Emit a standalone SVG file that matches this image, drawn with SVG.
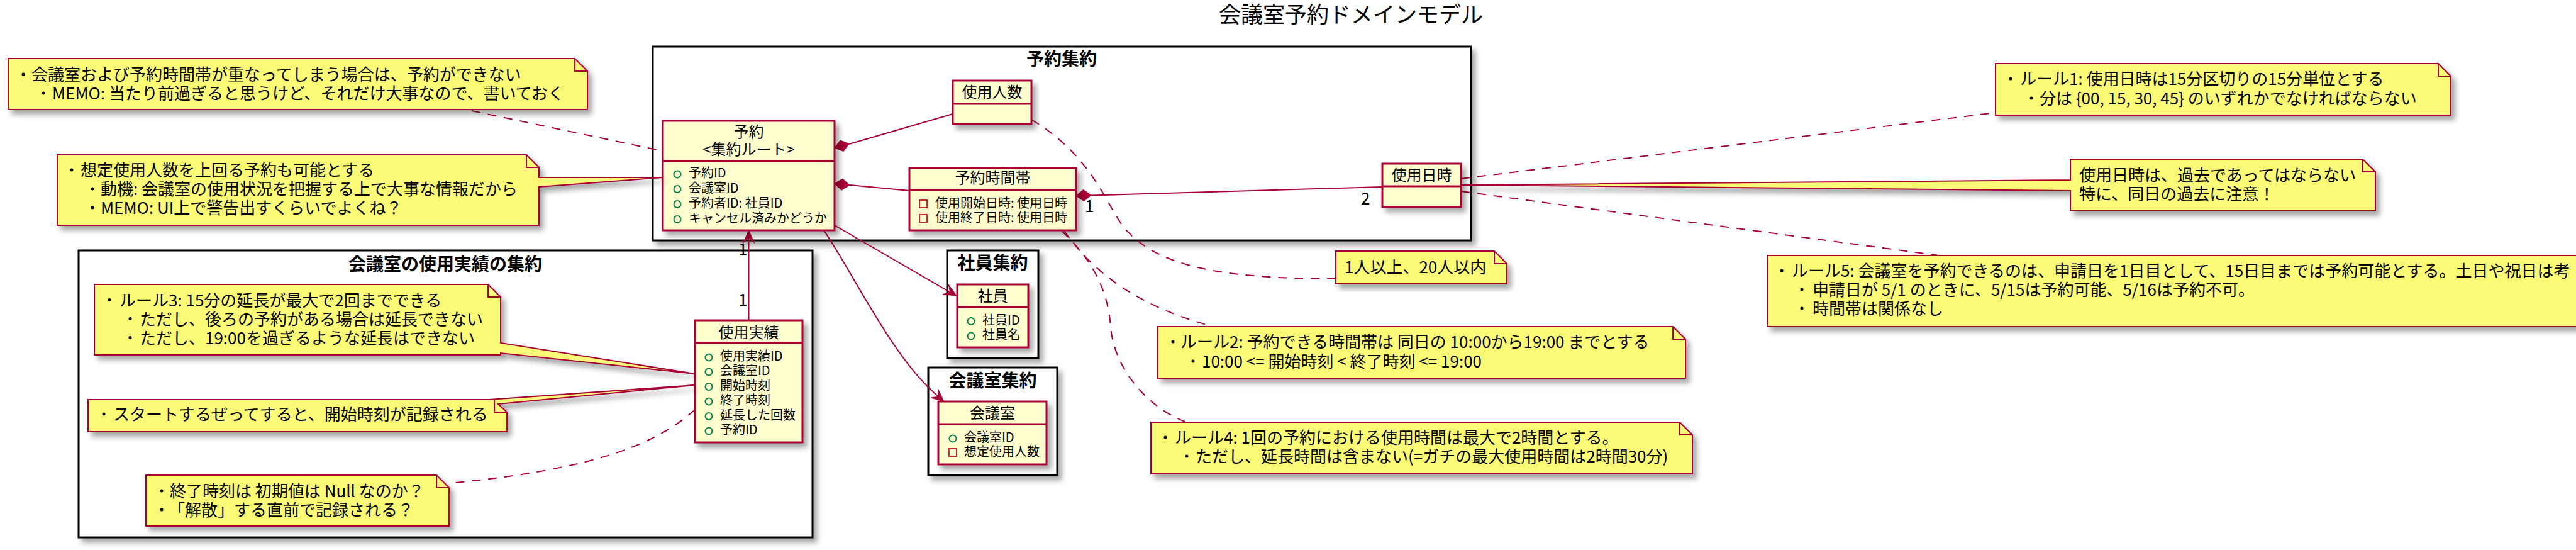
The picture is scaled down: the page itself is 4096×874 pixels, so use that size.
<svg xmlns="http://www.w3.org/2000/svg" width="4096" height="874" viewBox="0 0 4096 874">
<defs>
<filter id="sh" x="-5%" y="-10%" width="115%" height="135%">
<feDropShadow dx="6" dy="7" stdDeviation="4" flood-color="#000" flood-opacity="0.35"/>
</filter>
<path id="dia" d="M0,0 L12,-9 L24,0 L12,9 Z"/>
<path id="arr" d="M0,0 L-20,-9 L-12,0 L-20,9 Z"/>
</defs>
<style>
text{font-family:"Noto Sans CJK JP","Noto Sans",sans-serif;fill:#000}
.title{font-size:35px;text-anchor:middle}
.pkg{fill:#fff;stroke:#000;stroke-width:3}
.pkl{font-size:28px;font-weight:bold;text-anchor:middle}
.cls{fill:#FEFECE;stroke:#A80036;stroke-width:3}
.div{stroke:#A80036;stroke-width:3}
.cn{font-size:24px;text-anchor:middle}
.at{font-size:20px}
.pub{fill:none;stroke:#038048;stroke-width:2}
.prv{fill:none;stroke:#C82930;stroke-width:2}
.note{fill:#FBFB77;stroke:#A80036;stroke-width:2}
.fold{fill:none;stroke:#A80036;stroke-width:2}
.nt{font-size:26px}
.ln{fill:none;stroke:#A80036;stroke-width:2}
.dl{fill:none;stroke:#A80036;stroke-width:2;stroke-dasharray:14,12}
.hd{fill:#A80036;stroke:#A80036;stroke-width:1}
.lb{font-size:26px}
</style>
<rect width="4096" height="874" fill="#fff"/>
<text class="title" x="2148" y="36">会議室予約ドメインモデル</text>

<g id="pkg-yoyaku">
<rect class="pkg" x="1038" y="74" width="1301" height="308" filter="url(#sh)"/>
<text class="pkl" x="1688" y="104">予約集約</text>
</g>
<g id="pkg-jisseki">
<rect class="pkg" x="125" y="398" width="1167" height="456" filter="url(#sh)"/>
<text class="pkl" x="708" y="430">会議室の使用実績の集約</text>
</g>
<g id="pkg-shain">
<rect class="pkg" x="1506" y="398" width="145" height="171" filter="url(#sh)"/>
<text class="pkl" x="1578.5" y="428">社員集約</text>
</g>
<g id="pkg-kaigishitsu">
<rect class="pkg" x="1476" y="584" width="205" height="171" filter="url(#sh)"/>
<text class="pkl" x="1578.5" y="615">会議室集約</text>
</g>

<g id="connectors">
<path class="dl" d="M750,176 L1054,240"/>
<path class="dl" d="M2323,284 L3173,179"/>
<path class="dl" d="M2323,304 L3083,406"/>
<path class="dl" d="M1640,190 C1740,250 1760,330 1790,365 C1840,420 1930,443 2124,443"/>
<path class="dl" d="M1688,367 C1735,410 1762,460 1766,520 C1772,590 1830,650 1884,670"/>
<path class="dl" d="M1692,367 C1730,420 1790,480 1922,517"/>
<path class="dl" d="M1105,651 C1050,700 960,745 714,768"/>
<path class="ln" d="M1350,229 L1515,181"/>
<use href="#dia" class="hd" transform="translate(1327,235) rotate(-15.5)"/>
<path class="ln" d="M1351,294 L1446,303"/>
<use href="#dia" class="hd" transform="translate(1327,292) rotate(5.3)"/>
<path class="ln" d="M1735,310.5 L2198,297"/>
<use href="#dia" class="hd" transform="translate(1711,311) rotate(-1.6)"/>
<path class="ln" d="M1327,358 L1510,464"/>
<use href="#arr" class="hd" transform="translate(1521,470) rotate(30)"/>
<path class="ln" d="M1310,366 C1360,440 1420,570 1492,630"/>
<use href="#arr" class="hd" transform="translate(1501,638) rotate(40)"/>
<path class="ln" d="M1190.5,509 L1190.5,378"/>
<use href="#arr" class="hd" transform="translate(1190.5,366) rotate(-90)"/>
<text class="lb" x="1174" y="406">1</text>
<text class="lb" x="1174" y="486">1</text>
<text class="lb" x="1725" y="337">1</text>
<text class="lb" x="2164" y="325">2</text>
</g>

<g id="cls-yoyaku">
<rect class="cls" x="1054" y="192" width="273" height="174" filter="url(#sh)"/>
<line class="div" x1="1054" y1="256" x2="1327" y2="256"/>
<text class="cn" x="1190.5" y="218">予約</text>
<text class="cn" x="1190.5" y="246">&lt;集約ルート&gt;</text>
<circle class="pub" cx="1077" cy="277" r="5.5"/><text class="at" x="1095" y="282">予約ID</text>
<circle class="pub" cx="1077" cy="300.5" r="5.5"/><text class="at" x="1095" y="305.5">会議室ID</text>
<circle class="pub" cx="1077" cy="324.5" r="5.5"/><text class="at" x="1095" y="329.5">予約者ID: 社員ID</text>
<circle class="pub" cx="1077" cy="348.5" r="5.5"/><text class="at" x="1095" y="353.5">キャンセル済みかどうか</text>
</g>
<g id="cls-ninzu">
<rect class="cls" x="1515" y="128" width="125" height="69" filter="url(#sh)"/>
<line class="div" x1="1515" y1="165" x2="1640" y2="165"/>
<text class="cn" x="1577.5" y="155">使用人数</text>
</g>
<g id="cls-jikantai">
<rect class="cls" x="1446" y="267" width="265" height="99" filter="url(#sh)"/>
<line class="div" x1="1446" y1="302" x2="1711" y2="302"/>
<text class="cn" x="1578.5" y="291">予約時間帯</text>
<rect class="prv" x="1462" y="318" width="12" height="12"/><text class="at" x="1487" y="330">使用開始日時: 使用日時</text>
<rect class="prv" x="1462" y="341" width="12" height="12"/><text class="at" x="1487" y="353">使用終了日時: 使用日時</text>
</g>
<g id="cls-nichiji">
<rect class="cls" x="2198" y="260" width="125" height="69" filter="url(#sh)"/>
<line class="div" x1="2198" y1="296" x2="2323" y2="296"/>
<text class="cn" x="2260.5" y="286.5">使用日時</text>
</g>
<g id="cls-shain">
<rect class="cls" x="1522" y="452" width="113" height="100" filter="url(#sh)"/>
<line class="div" x1="1522" y1="488" x2="1635" y2="488"/>
<text class="cn" x="1578.5" y="478.5">社員</text>
<circle class="pub" cx="1544" cy="510.5" r="5.5"/><text class="at" x="1562" y="515.5">社員ID</text>
<circle class="pub" cx="1544" cy="534" r="5.5"/><text class="at" x="1562" y="539">社員名</text>
</g>
<g id="cls-kaigishitsu">
<rect class="cls" x="1492" y="638" width="172" height="100" filter="url(#sh)"/>
<line class="div" x1="1492" y1="674" x2="1664" y2="674"/>
<text class="cn" x="1578" y="665">会議室</text>
<circle class="pub" cx="1515" cy="697" r="5.5"/><text class="at" x="1533" y="702">会議室ID</text>
<rect class="prv" x="1509" y="713" width="12" height="12"/><text class="at" x="1533" y="725">想定使用人数</text>
</g>
<g id="cls-jisseki">
<rect class="cls" x="1105" y="509" width="171" height="194" filter="url(#sh)"/>
<line class="div" x1="1105" y1="545" x2="1276" y2="545"/>
<text class="cn" x="1190.5" y="536.5">使用実績</text>
<circle class="pub" cx="1127" cy="568" r="5.5"/><text class="at" x="1145" y="573">使用実績ID</text>
<circle class="pub" cx="1127" cy="591" r="5.5"/><text class="at" x="1145" y="596">会議室ID</text>
<circle class="pub" cx="1127" cy="614.5" r="5.5"/><text class="at" x="1145" y="619.5">開始時刻</text>
<circle class="pub" cx="1127" cy="638" r="5.5"/><text class="at" x="1145" y="643">終了時刻</text>
<circle class="pub" cx="1127" cy="661.5" r="5.5"/><text class="at" x="1145" y="666.5">延長した回数</text>
<circle class="pub" cx="1127" cy="685" r="5.5"/><text class="at" x="1145" y="690">予約ID</text>
</g>

<g id="note-overlap">
<path class="note" d="M13,93 L914,93 L934,113 L934,174 L13,174 Z" filter="url(#sh)"/>
<path class="fold" d="M914,93 L914,113 L934,113"/>
<circle cx="37" cy="118" r="2.5"/><text class="nt" x="50" y="127.5">会議室および予約時間帯が重なってしまう場合は、予約ができない</text>
<circle cx="69" cy="148" r="2.5"/><text class="nt" x="83" y="158">MEMO: 当たり前過ぎると思うけど、それだけ大事なので、書いておく</text>
</g>
<g id="note-ninzu">
<path class="note" d="M91,246 L837,246 L857,266 L857,282 L1054,282 L857,297 L857,358 L91,358 Z" filter="url(#sh)"/>
<path class="fold" d="M837,246 L837,266 L857,266"/>
<circle cx="114" cy="270" r="2.5"/><text class="nt" x="128" y="280">想定使用人数を上回る予約も可能とする</text>
<circle cx="147" cy="300" r="2.5"/><text class="nt" x="160" y="310">動機: 会議室の使用状況を把握する上で大事な情報だから</text>
<circle cx="147" cy="330" r="2.5"/><text class="nt" x="160" y="340">MEMO: UI上で警告出すくらいでよくね？</text>
</g>
<g id="note-rule1">
<path class="note" d="M3173,101 L3877,101 L3897,121 L3897,183 L3173,183 Z" filter="url(#sh)"/>
<path class="fold" d="M3877,101 L3877,121 L3897,121"/>
<circle cx="3197" cy="125" r="2.5"/><text class="nt" x="3212" y="135">ルール1: 使用日時は15分区切りの15分単位とする</text>
<circle cx="3230" cy="156" r="2.5"/><text class="nt" x="3243" y="166">分は {00, 15, 30, 45} のいずれかでなければならない</text>
</g>
<g id="note-past">
<path class="note" d="M3292,253 L3757,253 L3777,273 L3777,335 L3292,335 L3292,303 L2323,294 L3292,286 Z" filter="url(#sh)"/>
<path class="fold" d="M3757,253 L3757,273 L3777,273"/>
<text class="nt" x="3306" y="288">使用日時は、過去であってはならない</text>
<text class="nt" x="3306" y="318">特に、同日の過去に注意！</text>
</g>
<g id="note-rule5">
<path class="note" d="M2810,406 L4200,406 L4200,519 L2810,519 Z" filter="url(#sh)"/>
<circle cx="2833" cy="430" r="2.5"/><text class="nt" x="2849" y="440">ルール5: 会議室を予約できるのは、申請日を1日目として、15日目までは予約可能とする。土日や祝日は考</text>
<circle cx="2865" cy="460" r="2.5"/><text class="nt" x="2882" y="470">申請日が 5/1 のときに、5/15は予約可能、5/16は予約不可。</text>
<circle cx="2865" cy="490" r="2.5"/><text class="nt" x="2882" y="500">時間帯は関係なし</text>
</g>
<g id="note-ninzu-range">
<path class="note" d="M2124,399 L2376,399 L2396,419 L2396,451 L2124,451 Z" filter="url(#sh)"/>
<path class="fold" d="M2376,399 L2376,419 L2396,419"/>
<text class="nt" x="2138" y="434">1人以上、20人以内</text>
</g>
<g id="note-rule2">
<path class="note" d="M1841,519 L2660,519 L2680,539 L2680,601 L1841,601 Z" filter="url(#sh)"/>
<path class="fold" d="M2660,519 L2660,539 L2680,539"/>
<circle cx="1865" cy="543" r="2.5"/><text class="nt" x="1877" y="553">ルール2: 予約できる時間帯は 同日の 10:00から19:00 までとする</text>
<circle cx="1897" cy="574" r="2.5"/><text class="nt" x="1911" y="584">10:00 &lt;= 開始時刻 &lt; 終了時刻 &lt;= 19:00</text>
</g>
<g id="note-rule4">
<path class="note" d="M1830,671 L2671,671 L2691,691 L2691,753 L1830,753 Z" filter="url(#sh)"/>
<path class="fold" d="M2671,671 L2671,691 L2691,691"/>
<circle cx="1853" cy="695" r="2.5"/><text class="nt" x="1868" y="705">ルール4: 1回の予約における使用時間は最大で2時間とする。</text>
<circle cx="1887" cy="725" r="2.5"/><text class="nt" x="1901" y="735">ただし、延長時間は含まない(=ガチの最大使用時間は2時間30分)</text>
</g>
<g id="note-rule3">
<path class="note" d="M150,452 L776,452 L796,472 L796,545 L1105,594 L796,561 L796,564 L150,564 Z" filter="url(#sh)"/>
<path class="fold" d="M776,452 L776,472 L796,472"/>
<circle cx="174" cy="476.5" r="2.5"/><text class="nt" x="190" y="486.5">ルール3: 15分の延長が最大で2回までできる</text>
<circle cx="207" cy="506.5" r="2.5"/><text class="nt" x="222" y="516.5">ただし、後ろの予約がある場合は延長できない</text>
<circle cx="207" cy="536.5" r="2.5"/><text class="nt" x="222" y="546.5">ただし、19:00を過ぎるような延長はできない</text>
</g>
<g id="note-start">
<path class="note" d="M140,635 L778,635 L1105,612 L792,642 L806,655 L806,686 L140,686 Z" filter="url(#sh)"/>
<path class="fold" d="M786,635 L786,655 L806,655"/>
<circle cx="165" cy="658" r="2.5"/><text class="nt" x="180" y="668">スタートするぜってすると、開始時刻が記録される</text>
</g>
<g id="note-end">
<path class="note" d="M232,755 L694,755 L714,775 L714,836 L232,836 Z" filter="url(#sh)"/>
<path class="fold" d="M694,755 L694,775 L714,775"/>
<circle cx="257" cy="780" r="2.5"/><text class="nt" x="270" y="790">終了時刻は 初期値は Null なのか？</text>
<circle cx="257" cy="810" r="2.5"/><text class="nt" x="268" y="820">「解散」する直前で記録される？</text>
</g>
</svg>
